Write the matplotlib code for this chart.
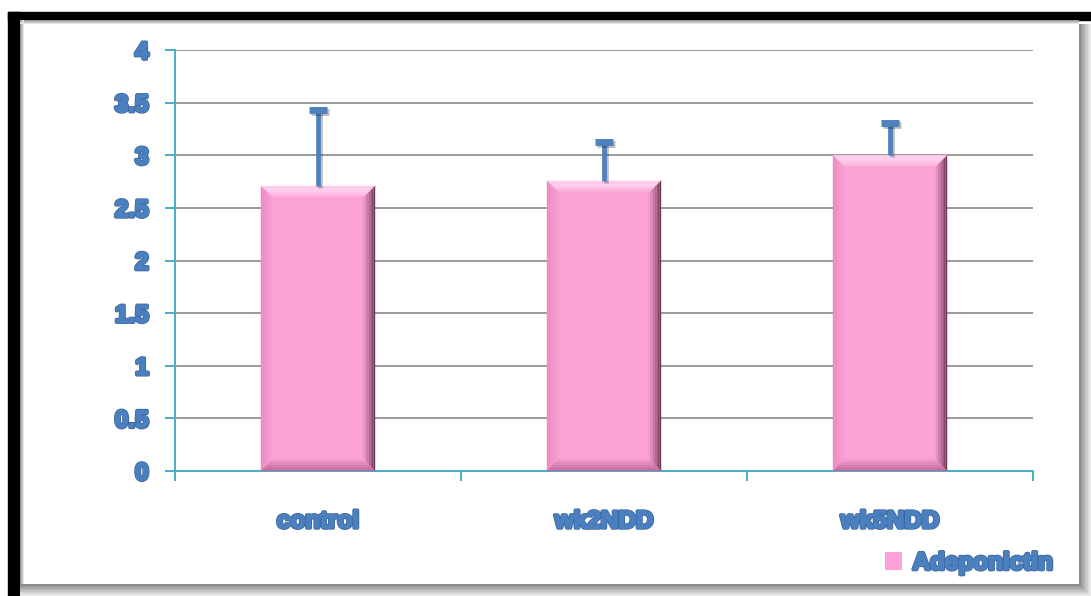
import matplotlib
matplotlib.use("Agg")
import matplotlib.pyplot as plt
import matplotlib.patheffects as pe
from matplotlib.patches import Rectangle, Polygon
import matplotlib.colors as mc
import numpy as np

categories = ["control", "wk2NDD", "wk5NDD"]
values = [2.71, 2.76, 3.00]
errors = [0.72, 0.37, 0.31]
yticks = [0, 0.5, 1, 1.5, 2, 2.5, 3, 3.5, 4]
ytick_labels = ["0", "0.5", "1", "1.5", "2", "2.5", "3", "3.5", "4"]
series_name = "Adeponictin"

W, H = 1091, 596
fig = plt.figure(figsize=(W / 100, H / 100), dpi=100)
fig.patch.set_facecolor("white")

def px(x0, y0, x1, y1, **kw):
    r = Rectangle((x0 / W, 1 - y1 / H), (x1 - x0) / W, (y1 - y0) / H,
                  transform=fig.transFigure, **kw)
    fig.patches.append(r)

# frame
px(8, 12, W, 20, color="black", zorder=0)
px(8, 12, 20, H, color="black", zorder=0)
for i in range(8):
    g = 0.55 + 0.055 * i
    px(W - 12 + i * 1.5, 24, W - 12 + (i + 1) * 1.5, H, color=(g, g, g), lw=0, zorder=0)
    px(20, H - 12 + i * 1.5, W, H - 12 + (i + 1) * 1.5, color=(g, g, g), lw=0, zorder=0)
for i in range(4):
    g = 0.6 + 0.1 * i
    px(20 + i, 20, 21 + i, H - 12, color=(g, g, g), lw=0, zorder=0)
    px(20, 20 + i, W - 12, 21 + i, color=(g, g, g), lw=0, zorder=0)

ax = fig.add_axes([175 / W, 1 - 471 / H, (1033 - 175) / W, (471 - 50) / H])
ax.set_facecolor("none")

x = np.arange(len(categories))
bar_color = "#fca2d6"
bars = ax.bar(x, values, width=0.4, color=bar_color, edgecolor="none", zorder=3,
              label=series_name)

base = np.array(mc.to_rgb(bar_color))
def mix(c, t):
    return tuple(np.array(mc.to_rgb(c)) * (1 - t) + base * t)

bx = 13 / 286.0
by = 13 / 105.25
n = 8
for b in bars:
    x0, w, h = b.get_x(), b.get_width(), b.get_height()
    x1 = x0 + w
    for k in range(n):
        a, c = k / n, (k + 1) / n
        t = (k + 0.5) / n
        lt = 1 - np.sin(np.pi * (0.35 + 0.65 * t)) * 0.9
        ax.add_patch(Polygon([(x0 + a * bx, h - a * by), (x1 - a * bx, h - a * by),
                              (x1 - c * bx, h - c * by), (x0 + c * bx, h - c * by)],
                             closed=True, color=mix("#ffe0f4", min(1, lt + 0.1)), lw=0, zorder=4))
        ax.add_patch(Polygon([(x1 - a * bx, h - a * by), (x1 - a * bx, a * by),
                              (x1 - c * bx, c * by), (x1 - c * bx, h - c * by)],
                             closed=True, color=mix("#5a2a45", t ** 0.8), lw=0, zorder=4))
        ax.add_patch(Polygon([(x0 + a * bx, h - a * by), (x0 + a * bx, a * by),
                              (x0 + c * bx, c * by), (x0 + c * bx, h - c * by)],
                             closed=True, color=mix("#e07fb4", 0.3 + 0.7 * t), lw=0, zorder=4))
        ax.add_patch(Polygon([(x0 + a * bx, a * by), (x1 - a * bx, a * by),
                              (x1 - c * bx, c * by), (x0 + c * bx, c * by)],
                             closed=True, color=mix("#a45080", 0.2 + 0.8 * t), lw=0, zorder=4))

shadow = [pe.SimpleLineShadow(offset=(1.5, -1.5), alpha=0.25), pe.Normal()]
tops = np.array(values) + np.array(errors)
ax.vlines(x, values, tops, color="#4f81bd", lw=3.4, zorder=5, path_effects=shadow)
ax.plot(x, tops, linestyle="none", marker="_", markersize=13, markeredgewidth=5,
        color="#4f81bd", zorder=5, path_effects=shadow)

ax.set_xlim(-0.5, len(categories) - 0.5)
ax.set_ylim(0, 4)
ax.set_yticks(yticks)
ax.set_yticklabels(ytick_labels)
ax.yaxis.grid(True, color="#9a9a9a", lw=1.4, zorder=0)
ax.set_axisbelow(True)

for s in ["top", "right"]:
    ax.spines[s].set_visible(False)
for s in ["left", "bottom"]:
    ax.spines[s].set_color("#4bacc6")
    ax.spines[s].set_linewidth(1.4)

ax.set_xticks(x)
ax.set_xticklabels(categories)
ax.set_xticks(np.arange(-0.5, len(categories), 1.0), minor=True)
ax.tick_params(axis="x", which="major", length=0, pad=28)
ax.tick_params(axis="x", which="minor", length=7, width=1.4, color="#4bacc6", direction="out")
ax.tick_params(axis="y", length=7, width=1.4, color="#4bacc6", pad=12)

txt_color = "#4a7fc0"
effects = [pe.withStroke(linewidth=2.6, foreground="#3d6396"),
           pe.withStroke(linewidth=1.6, foreground=txt_color)]
for lab in ax.get_xticklabels() + ax.get_yticklabels():
    lab.set_fontfamily("Liberation Sans")
    lab.set_fontweight("bold")
    lab.set_fontsize(17.5)
    lab.set_color(txt_color)
    lab.set_path_effects(effects)

leg = fig.legend(handles=[bars], labels=[series_name], loc="center right",
                 bbox_to_anchor=(1075 / W, 1 - 563 / H), frameon=False,
                 handlelength=0.7, handleheight=0.8, handletextpad=0.45,
                 prop={"family": "Liberation Sans", "weight": "bold", "size": 17.5})
for t in leg.get_texts():
    t.set_color(txt_color)
    t.set_path_effects(effects)

fig.savefig("out.png", dpi=100)
